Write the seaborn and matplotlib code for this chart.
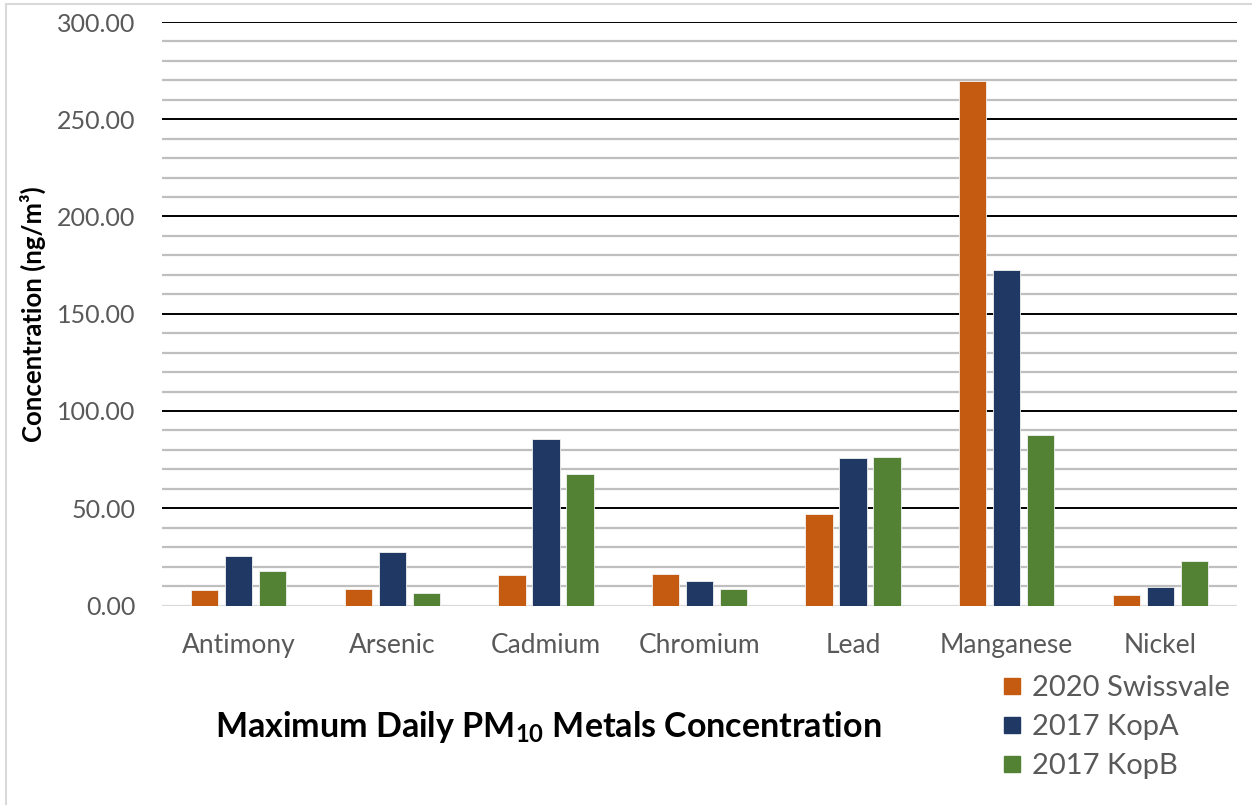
import matplotlib
matplotlib.use("Agg")
import matplotlib.pyplot as plt
from matplotlib.lines import Line2D
from matplotlib.ticker import MultipleLocator, FormatStrFormatter
import seaborn as sns
import pandas as pd

# Maximum daily PM10 metal concentrations (ng/m3)
metals = ["Antimony", "Arsenic", "Cadmium", "Chromium", "Lead", "Manganese", "Nickel"]
series = ["2020 Swissvale", "2017 KopA", "2017 KopB"]
swissvale_2020 = [8.0, 8.3, 15.7, 16.2, 47.0, 269.7, 5.4]
kopa_2017 = [25.6, 27.6, 85.4, 12.6, 75.6, 172.4, 9.5]
kopb_2017 = [17.9, 6.3, 67.6, 8.3, 76.2, 87.6, 22.9]
colors = ["#C55A11", "#1F3864", "#548235"]

rows = []
for name, vals in zip(series, [swissvale_2020, kopa_2017, kopb_2017]):
    for m, v in zip(metals, vals):
        rows.append({"Metal": m, "Series": name, "Value": v})
df = pd.DataFrame(rows)

sns.set_theme(style="white")
plt.rcParams["font.family"] = ["Lato", "DejaVu Sans"]
plt.rcParams["mathtext.fontset"] = "custom"
plt.rcParams["mathtext.rm"] = "Lato"
plt.rcParams["mathtext.bf"] = "Lato:bold"

fig = plt.figure(figsize=(12.52, 8.05), dpi=100)
ax = fig.add_axes([162 / 1252, 199.5 / 805, 1075 / 1252, 583.5 / 805])

sns.barplot(data=df, x="Metal", y="Value", hue="Series", order=metals,
            hue_order=series, palette=colors, width=0.664, gap=0.2,
            edgecolor="#f2f2f2", linewidth=0.6, saturation=1, ax=ax,
            legend=False, zorder=3)

ax.set_ylim(0, 300)
ax.set_xlim(-0.5, len(metals) - 0.5)
ax.yaxis.set_major_locator(MultipleLocator(50))
ax.yaxis.set_minor_locator(MultipleLocator(10))
ax.yaxis.set_major_formatter(FormatStrFormatter("%.2f"))

# gridlines: grey every 10, black every 50
for y in range(10, 301, 10):
    if y % 50 == 0:
        ax.axhline(y, color="#000000", lw=1.4, zorder=1)
    else:
        ax.axhline(y, color="#BFBFBF", lw=1.6, zorder=1)
ax.axhline(0, color="#D9D9D9", lw=1.6, zorder=2)

for s in ax.spines.values():
    s.set_visible(False)
ax.tick_params(axis="both", which="both", length=0)
ax.tick_params(axis="y", pad=19, labelsize=18, labelcolor="#595959")
ax.tick_params(axis="x", pad=20, labelsize=19, labelcolor="#595959")
ax.set_xlabel("")
ax.set_ylabel("Concentration (ng/m³)", fontsize=18.5, fontweight="bold",
              color="#000000", labelpad=8)

fig.text(548 / 1252, 1 - 727 / 805,
         r"Maximum Daily PM$_{\mathbf{10}}$ Metals Concentration",
         fontsize=24.5, fontweight="bold", color="#000000",
         ha="center", va="center")

handles = [Line2D([0], [0], marker="s", linestyle="none", markersize=12,
                  markerfacecolor=c, markeredgecolor=c) for c in colors]
fig.legend(handles, series, loc="upper left",
           bbox_to_anchor=(1001 / 1252, 1 - 675 / 805), frameon=False,
           fontsize=21, labelcolor="#595959", handlelength=0.75,
           handletextpad=0.3, labelspacing=0.45, borderaxespad=0,
           borderpad=0)

# thin frame around the chart area
fig.add_artist(Line2D([6 / 1252, 6 / 1252], [0, 1 - 4 / 805],
                      transform=fig.transFigure, color="#D9D9D9", lw=1.5))
fig.add_artist(Line2D([6 / 1252, 1], [1 - 4 / 805, 1 - 4 / 805],
                      transform=fig.transFigure, color="#D9D9D9", lw=1.5))

fig.savefig("out.png", dpi=100)
